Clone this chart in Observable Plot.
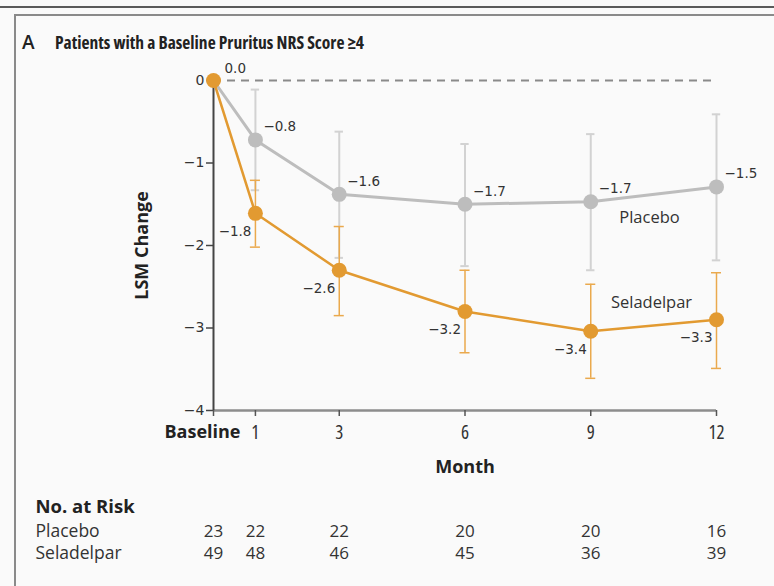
<!DOCTYPE html>
<html>
<head>
<meta charset="utf-8">
<script src="https://cdn.jsdelivr.net/npm/d3@7"></script>
<script src="https://cdn.jsdelivr.net/npm/@observablehq/plot@0.6"></script>
<style>
  html, body { margin: 0; padding: 0; background: #fafafa; }
  #wrap { position: relative; width: 774px; height: 586px; overflow: hidden; background: #fafafa; }
  #topline { position: absolute; left: 0; top: 6px; width: 774px; height: 2px; background: #5a5a5a; }
  #frame { position: absolute; left: 14px; top: 14px; width: 780px; height: 600px; border-left: 2px solid #8a8a8a; border-top: 2px solid #8a8a8a; }
  #title { position: absolute; left: 22px; top: 30px; font-family: "Open Sans", sans-serif; font-weight: 700; font-size: 17.5px; font-stretch: 77%; color: #222; white-space: nowrap; }
  #title .letter { display: inline-block; width: 33px; font-size: 19px; font-weight: 600; font-stretch: 100%; line-height: 19px; }
  #chart { position: absolute; left: 0; top: 0; }
  #chart [font-family="OS93"] { font-family: "Open Sans", sans-serif; font-stretch: 93%; }
  #chart [font-family="OS88"] { font-family: "Open Sans", sans-serif; font-stretch: 88%; }
  #chart [font-family="OS75"] { font-family: "Open Sans", sans-serif; font-stretch: 75%; }
</style>
</head>
<body>
<div id="wrap">
  <div id="topline"></div>
  <div id="frame"></div>
  <div id="title"><span class="letter">A</span>Patients with a Baseline Pruritus NRS Score ≥4</div>
  <div id="chart"></div>
</div>
<script>
// ---- data ----
const months = [0, 1, 3, 6, 9, 12];
const xTickLabels = ["Baseline", "1", "3", "6", "9", "12"];
const yTicks = [-4, -3, -2, -1, 0];

const placeboMean  = [0, -0.72, -1.38, -1.50, -1.47, -1.29];
const placeboLow   = [null, -1.33, -2.15, -2.25, -2.30, -2.18];
const placeboHigh  = [null, -0.11, -0.62, -0.77, -0.65, -0.41];
const placeboLabel = [null, "−0.8", "−1.6", "−1.7", "−1.7", "−1.5"];

const seladMean  = [0, -1.61, -2.30, -2.80, -3.04, -2.90];
const seladLow   = [null, -2.02, -2.85, -3.30, -3.61, -3.49];
const seladHigh  = [null, -1.21, -1.77, -2.30, -2.47, -2.33];
const seladLabel = ["0.0", "−1.8", "−2.6", "−3.2", "−3.4", "−3.3"];

const placeboRisk = [23, 22, 22, 20, 20, 16];
const seladRisk   = [49, 48, 46, 45, 36, 39];

const seriesNames = ["Placebo", "Seladelpar"];
const riskTitle = "No. at Risk";
const xTitle = "Month";
const yTitle = "LSM Change";

// ---- build tables ----
const GRAY = "#bdbdbd", GRAY_ERR = "#d2d2d2", ORANGE = "#e29a31", ORANGE_ERR = "#eaa94d";
function rows(mean, low, high, label, risk) {
  return months.map((m, i) => ({m, y: mean[i], lo: low[i], hi: high[i], label: label[i], risk: risk[i]}));
}
const placebo = rows(placeboMean, placeboLow, placeboHigh, placeboLabel, placeboRisk);
const selad = rows(seladMean, seladLow, seladHigh, seladLabel, seladRisk);
const plErr = placebo.filter(d => d.lo != null);
const seErr = selad.filter(d => d.lo != null);
const ticks = months.map((m, i) => ({m, label: xTickLabels[i]}));

const numFont = "DejaVu Sans";
const mid = {lineAnchor: "middle"};

const chart = Plot.plot({
  width: 774,
  height: 586,
  marginTop: 80,
  marginBottom: 176,
  marginLeft: 213,
  marginRight: 58,
  style: {background: "transparent", overflow: "visible"},
  x: {type: "linear", domain: [0, 12]},
  y: {type: "linear", domain: [-4, 0]},
  marks: [
    // axes lines
    Plot.ruleY([-4], {stroke: "#8c8c8c", strokeWidth: 2.5}),
    Plot.ruleX([0], {y1: -4, y2: 0, stroke: "#444", strokeWidth: 2}),
    Plot.ruleY([0], {stroke: "#8a8a8a", strokeWidth: 2, strokeDasharray: "8,6"}),
    // y axis
    Plot.axisY({ticks: yTicks, tickSize: 7, tickPadding: 2, stroke: "#444", strokeWidth: 1.5, fontSize: 14, fontFamily: numFont, fill: "#333", label: null, tickFormat: d => d === 0 ? "0" : "−" + Math.abs(d)}),
    // x axis ticks (labels drawn as text marks)
    Plot.axisX({ticks: months, tickSize: 6, stroke: "#555", strokeWidth: 1.5, tickFormat: () => "", label: null}),
    Plot.text(ticks.filter(d => d.m !== 0), {...mid, x: "m", text: "label", frameAnchor: "bottom", dy: 22, fontSize: 19, fontFamily: "OS75", fill: "#333"}),
    Plot.text(ticks.filter(d => d.m === 0), {...mid, x: "m", text: "label", frameAnchor: "bottom", dy: 22, dx: -11, fontSize: 18, fontWeight: "bold", fontFamily: "OS93", fill: "#222"}),
    // axis titles
    Plot.text([xTitle], {...mid, frameAnchor: "bottom", dy: 57, fontSize: 18, fontWeight: "bold", fontFamily: "OS93", fill: "#222"}),
    Plot.text([yTitle], {...mid, frameAnchor: "left", textAnchor: "middle", dx: -71, rotate: -90, fontSize: 18, fontWeight: "bold", fontFamily: "OS93", fill: "#222"}),
    // error bars
    Plot.ruleX(plErr, {x: "m", y1: "lo", y2: "hi", stroke: GRAY_ERR, strokeWidth: 2}),
    Plot.ruleY(plErr, {y: "lo", x1: d => d.m - 0.1, x2: d => d.m + 0.1, stroke: GRAY_ERR, strokeWidth: 2}),
    Plot.ruleY(plErr, {y: "hi", x1: d => d.m - 0.1, x2: d => d.m + 0.1, stroke: GRAY_ERR, strokeWidth: 2}),
    Plot.ruleX(seErr, {x: "m", y1: "lo", y2: "hi", stroke: ORANGE_ERR, strokeWidth: 1.5}),
    Plot.ruleY(seErr, {y: "lo", x1: d => d.m - 0.12, x2: d => d.m + 0.12, stroke: ORANGE_ERR, strokeWidth: 1.5}),
    Plot.ruleY(seErr, {y: "hi", x1: d => d.m - 0.12, x2: d => d.m + 0.12, stroke: ORANGE_ERR, strokeWidth: 1.5}),
    // lines
    Plot.line(placebo, {x: "m", y: "y", stroke: GRAY, strokeWidth: 3}),
    Plot.line(selad, {x: "m", y: "y", stroke: ORANGE, strokeWidth: 2.5}),
    Plot.dot(placebo.filter(d => d.m !== 0), {x: "m", y: "y", r: 7.5, fill: GRAY, stroke: "none"}),
    Plot.dot(selad, {x: "m", y: "y", r: 7.5, fill: ORANGE, stroke: "none"}),
    // value labels
    Plot.text(placebo.filter(d => d.label), {x: "m", y: "y", text: "label", textAnchor: "start", dx: 8, dy: -13, fontSize: 13.5, fontFamily: numFont, fill: "#333"}),
    Plot.text(selad.filter(d => d.m !== 0), {x: "m", y: "y", text: "label", textAnchor: "end", dx: -4, dy: 18, fontSize: 13.5, fontFamily: numFont, fill: "#333"}),
    Plot.text(selad.filter(d => d.m === 0), {x: "m", y: "y", text: "label", textAnchor: "start", dx: 11, dy: -12, fontSize: 13.5, fontFamily: numFont, fill: "#333"}),
    // series labels
    Plot.text([seriesNames[0]], {x: () => 10.4, y: () => -1.66, fontSize: 16.5, fontFamily: "OS93", fill: "#333"}),
    Plot.text([seriesNames[1]], {x: () => 10.45, y: () => -2.69, fontSize: 16.5, fontFamily: "OS93", fill: "#333"}),
    // risk table
    Plot.text([riskTitle], {...mid, frameAnchor: "bottom-left", dx: -178, dy: 97, textAnchor: "start", fontSize: 18.5, fontWeight: "bold", fontFamily: "OS93", fill: "#222"}),
    Plot.text([seriesNames[0]], {...mid, frameAnchor: "bottom-left", dx: -178, dy: 121, textAnchor: "start", fontSize: 17.5, fontFamily: "Open Sans", fill: "#333"}),
    Plot.text([seriesNames[1]], {...mid, frameAnchor: "bottom-left", dx: -178, dy: 143, textAnchor: "start", fontSize: 17.5, fontFamily: "Open Sans", fill: "#333"}),
    Plot.text(placebo, {...mid, x: "m", text: "risk", frameAnchor: "bottom", dy: 121, fontSize: 17, fontFamily: "OS88", fill: "#333"}),
    Plot.text(selad, {...mid, x: "m", text: "risk", frameAnchor: "bottom", dy: 143, fontSize: 17, fontFamily: "OS88", fill: "#333"})
  ]
});
document.getElementById("chart").appendChild(chart);
</script>
</body>
</html>
